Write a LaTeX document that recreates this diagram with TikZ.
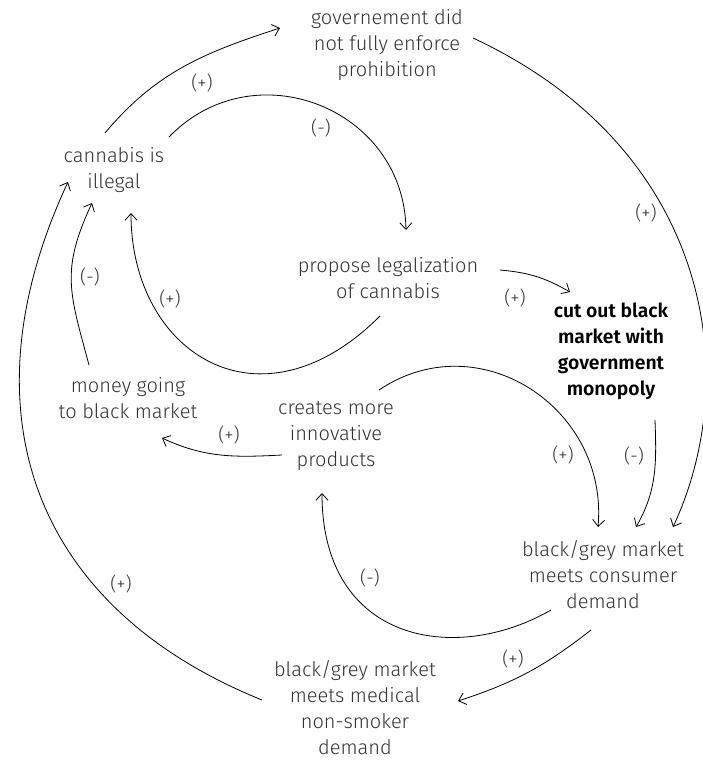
\documentclass[tikz,border=0pt]{standalone}
\usepackage{fontspec}
\setmainfont{Fira Sans Light}[BoldFont=Fira Sans SemiBold]
\usetikzlibrary{arrows.meta}
\definecolor{txt}{HTML}{333333}
\tikzset{
  factor/.style={align=center, inner sep=0pt, text=txt,
    font=\fontsize{15pt}{19.5pt}\selectfont},
  keyfactor/.style={factor, text=black, font=\fontsize{14.5pt}{19.5pt}\selectfont\bfseries},
  sign/.style={inner sep=0pt, text=txt, font=\fontsize{14pt}{16pt}\selectfont},
  link/.style={line width=0.6pt, -{Straight Barb[length=5pt,width=9pt]}},
}
\begin{document}
\begin{tikzpicture}[x=0.75pt,y=0.75pt]
\useasboundingbox (0,0) rectangle (702,-766);

% factors of the causal loop
\node[factor] (gov) at (387,-45) {governement did\\not fully enforce\\prohibition};
\node[factor] (cannabis) at (114,-170) {cannabis is\\illegal};
\node[factor] (propose) at (388,-278) {propose legalization\\of cannabis};
\node[keyfactor] (cutout) at (611,-351) {cut out black\\market with\\government\\monopoly};
\node[factor] (money) at (128,-398) {money going\\to black market};
\node[factor] (creates) at (336,-436) {creates more\\innovative\\products};
\node[factor] (bgmc) at (603,-575) {black/grey market\\meets consumer\\demand};
\node[factor] (medical) at (355,-708) {black/grey market\\meets medical\\non-smoker\\demand};

% causal links
\draw[link] ([shift={(-9,37)}]cannabis.center) to[out=50,in=198] ([shift={(-107,17)}]gov.center);
\draw[link] ([shift={(55,33)}]cannabis.center) .. controls +(46:122) and +(91:122) .. ([shift={(18,48)}]propose.center);
\draw[link] ([shift={(-8,-38)}]propose.center) .. controls +(225:170) and +(270:140) .. ([shift={(17,-43)}]cannabis.center);
\draw[link] ([shift={(-39,33)}]money.center) .. controls +(105:75) and +(245:75) .. ([shift={(-22,-33)}]cannabis.center);
\draw[link] ([shift={(-93,8)}]medical.center) .. controls +(158:250) and +(245:250) .. ([shift={(-46,-12)}]cannabis.center);
\draw[link] ([shift={(86,7)}]gov.center) .. controls +(-25:260) and +(65:170) .. ([shift={(70,48)}]bgmc.center);
\draw[link] ([shift={(112,8)}]propose.center) to[out=-5,in=150] ([shift={(-41,59)}]cutout.center);
\draw[link] ([shift={(44,-69)}]cutout.center) to[out=-88,in=60] ([shift={(33,48)}]bgmc.center);
\draw[link] ([shift={(43,46)}]creates.center) .. controls +(34:120) and +(85:120) .. ([shift={(-5,48)}]bgmc.center);
\draw[link] ([shift={(-52,-35)}]bgmc.center) .. controls +(210:110) and +(270:150) .. ([shift={(-14,-57)}]creates.center);
\draw[link] ([shift={(-54,-19)}]creates.center) to[out=183,in=-25] ([shift={(34,-40)}]money.center);
\draw[link] ([shift={(-12,-55)}]bgmc.center) to[out=218,in=18] ([shift={(103,7)}]medical.center);

% polarity signs
\node[sign] (s1) at (202,-83) {(+)};
\node[sign] (s2) at (321,-128) {(-)};
\node[sign] (s3) at (170,-299) {(+)};
\node[sign] (s4) at (90,-277) {(-)};
\node[sign] (s5) at (121,-584) {(+)};
\node[sign] (s6) at (646,-213) {(+)};
\node[sign] (s7) at (515,-298) {(+)};
\node[sign] (s8) at (634,-456) {(-)};
\node[sign] (s9) at (563,-455) {(+)};
\node[sign] (s10) at (370,-578) {(-)};
\node[sign] (s11) at (229,-435) {(+)};
\node[sign] (s12) at (513,-659) {(+)};
\end{tikzpicture}
\end{document}
